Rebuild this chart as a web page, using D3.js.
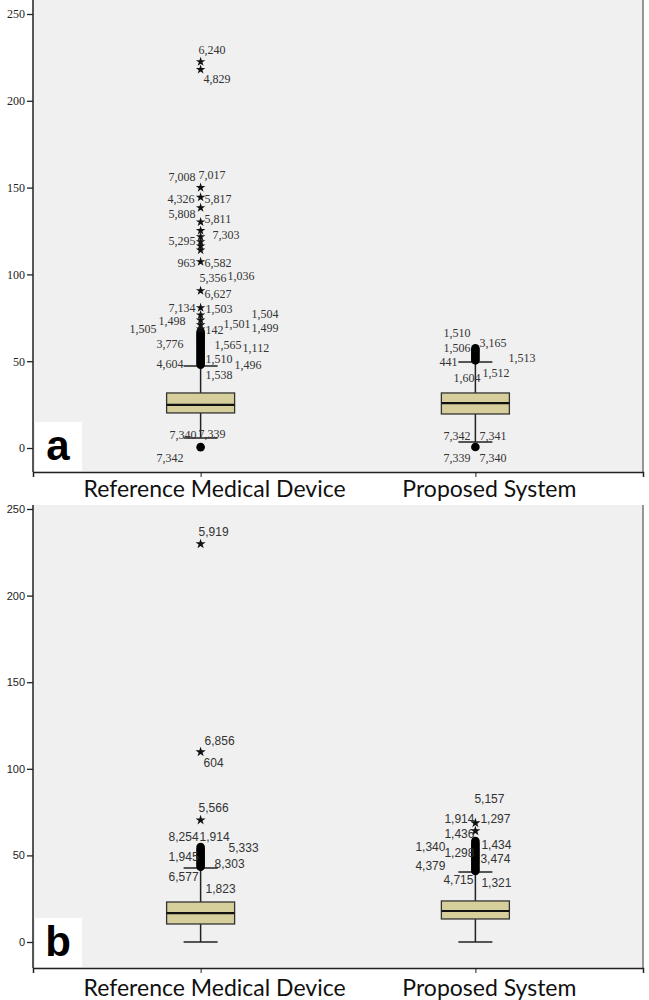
<!DOCTYPE html>
<html>
<head>
<meta charset="utf-8">
<script src="https://cdn.jsdelivr.net/npm/d3@7"></script>
<style>
  body { margin: 0; background: #fff; }
</style>
</head>
<body>
<div id="chart"></div>
<script>
var categories = ["Reference Medical Device", "Proposed System"];
var yTicks = [0, 50, 100, 150, 200, 250];

// box stats: [lower whisker, q1, median, q3, upper whisker]
var boxA = [[5.8, 20.2, 24.8, 31.7, 47.2], [3.5, 19.6, 25.9, 31.7, 49.5]];
var boxB = [[0, 10.4, 16.7, 23.1, 42.7], [0, 13.3, 17.9, 23.7, 40.4]];

// outliers (circles) and extremes (stars)
var circlesA = [
  [0.5, 48, 49, 50, 51, 52, 53, 54, 55, 56, 57, 58, 59, 60, 61, 62, 63, 64, 65, 66, 67],
  [0.6, 50.5, 51.5, 52.5, 53.5, 54.5, 55.5, 56.5, 57.5]
];
var starsA = [
  [68.5, 70.9, 73.7, 76.6, 80.8, 90.6, 107.3, 114, 116.4, 118.8, 121.7, 125.2, 130.2, 138.4, 144.4, 150, 218, 222.5],
  []
];
var circlesB = [
  [43.5, 44.5, 45.5, 46.5, 47.5, 48.5, 49.5, 50.5, 51.5, 52.5, 53.5, 54.8],
  [41, 42, 43, 44, 45, 46, 47, 48, 49, 50, 51, 52, 53, 54, 55, 56, 57, 58.3]
];
var starsB = [
  [70.4, 109.7, 229.8],
  [64.1, 68.7]
];

// case labels: [text, value, dx]
var labelsA = [
  [["6,240", 227.0, -2], ["4,829", 210.3, 3], ["7,008", 154.0, -32], ["7,017", 155.0, -2],
   ["4,326", 141.3, -33], ["5,817", 141.3, 4], ["5,808", 132.5, -32], ["5,811", 129.6, 4],
   ["7,303", 120.4, 12], ["5,295", 116.9, -32], ["963", 104.3, -23], ["6,582", 104.3, 4],
   ["5,356", 95.6, -1], ["1,036", 96.8, 27], ["6,627", 86.4, 4], ["7,134", 78.3, -32],
   ["1,503", 77.8, 5], ["1,504", 74.9, 51], ["1,498", 70.9, -42], ["1,505", 66.2, -71],
   ["142", 65.7, 5], ["1,501", 69.1, 23], ["1,499", 66.8, 51], ["3,776", 57.6, -44],
   ["1,565", 57.0, 14], ["1,112", 55.3, 42], ["4,604", 46.1, -44], ["1,510", 49.0, 5],
   ["1,496", 45.5, 34], ["1,538", 39.7, 5], ["7,340", 5.2, -31], ["7,339", 5.8, -2],
   ["7,342", -8.1, -44]],
  [["1,510", 63.9, -32], ["1,506", 55.3, -32], ["3,165", 58.2, 4], ["441", 47.2, -36],
   ["1,513", 49.5, 33], ["1,604", 38.0, -22], ["1,512", 40.9, 7], ["7,342", 4.6, -32],
   ["7,341", 4.6, 4], ["7,339", -8.1, -32], ["7,340", -8.1, 4]]
];
var labelsB = [
  [["5,919", 234.4, -2], ["6,856", 113.7, 4], ["604", 101.0, 3], ["5,566", 75.1, -2],
   ["8,254", 58.3, -32], ["1,914", 58.3, -1], ["5,333", 52.0, 28], ["1,945", 46.8, -32],
   ["8,303", 42.7, 14], ["6,577", 35.2, -32], ["1,823", 28.3, 5]],
  [["5,157", 80.3, -1], ["1,914", 68.7, -31], ["1,297", 68.7, 5], ["1,436", 60.0, -31],
   ["1,340", 52.5, -60], ["1,298", 49.1, -31], ["1,434", 53.7, 6], ["3,474", 45.6, 5],
   ["4,379", 41.6, -60], ["4,715", 33.5, -32], ["1,321", 31.8, 6]]
];

var width = 649, height = 1000;
var plotLeft = 33, plotRight = 643;

var svg = d3.select("#chart").append("svg")
  .attr("width", width)
  .attr("height", height);

var xScale = d3.scalePoint()
  .domain(categories)
  .range([plotLeft, plotRight])
  .padding(0.61);

function drawPanel(opt) {
  var g = svg.append("g").attr("class", "panel-" + opt.letter);

  var yScale = d3.scaleLinear().domain([0, 250]).range([opt.y0, opt.y250]);

  // plot background
  g.append("rect")
    .attr("x", plotLeft)
    .attr("y", opt.top)
    .attr("width", plotRight - plotLeft)
    .attr("height", opt.bottom - opt.top)
    .attr("fill", "#f0f0f0");
  g.append("line")
    .attr("x1", plotRight).attr("x2", plotRight)
    .attr("y1", opt.top).attr("y2", opt.bottom)
    .attr("stroke", "#555").attr("stroke-width", 1.2);

  // letter badge
  g.append("rect")
    .attr("x", plotLeft + 2).attr("y", opt.bottom - 50)
    .attr("width", 47).attr("height", 49)
    .attr("fill", "#fff");
  g.append("text")
    .text(opt.letter)
    .attr("x", plotLeft + 25).attr("y", opt.bottom - 12)
    .attr("text-anchor", "middle")
    .attr("font-family", "Liberation Sans, Arial, sans-serif")
    .attr("font-weight", "bold")
    .attr("font-size", 42)
    .attr("fill", "#000");

  // y axis
  var yAxis = d3.axisLeft(yScale).tickValues(yTicks).tickSize(6).tickPadding(2).tickFormat(d3.format("d"));
  var ya = g.append("g")
    .attr("transform", "translate(" + plotLeft + ",0)")
    .call(yAxis);
  ya.select(".domain").remove();
  ya.append("line")
    .attr("x1", 0).attr("x2", 0)
    .attr("y1", opt.top).attr("y2", opt.bottom)
    .attr("stroke", "#222").attr("stroke-width", 1.5);
  ya.selectAll(".tick line").attr("stroke", "#222").attr("stroke-width", 1.3);
  ya.selectAll(".tick text")
    .attr("font-family", opt.tickFont)
    .attr("font-size", opt.tickSize)
    .attr("fill", "#222");

  // x axis
  var xAxis = d3.axisBottom(xScale).tickSize(5).tickFormat("");
  var xa = g.append("g")
    .attr("transform", "translate(0," + opt.bottom + ")")
    .call(xAxis);
  xa.select(".domain").attr("stroke", "#222").attr("stroke-width", 1.5);
  xa.selectAll(".tick line").attr("stroke", "#222");

  g.selectAll(".cat-label")
    .data(categories)
    .enter().append("text")
    .attr("class", "cat-label")
    .text(function(d) { return d; })
    .attr("x", function(d) { return xScale(d) + 14; })
    .attr("y", opt.catY)
    .attr("text-anchor", "middle")
    .attr("font-family", "Lato, Open Sans, sans-serif")
    .attr("font-size", 23)
    .attr("fill", "#111");

  var boxW = 68, capW = 34;

  categories.forEach(function(cat, i) {
    var cx = xScale(cat);
    var s = opt.box[i];

    // whiskers
    g.append("line")
      .attr("x1", cx).attr("x2", cx)
      .attr("y1", yScale(s[0])).attr("y2", yScale(s[1]))
      .attr("stroke", "#222").attr("stroke-width", 1.5);
    g.append("line")
      .attr("x1", cx).attr("x2", cx)
      .attr("y1", yScale(s[3])).attr("y2", yScale(s[4]))
      .attr("stroke", "#222").attr("stroke-width", 1.5);
    [s[0], s[4]].forEach(function(v) {
      g.append("line")
        .attr("x1", cx - capW / 2).attr("x2", cx + capW / 2)
        .attr("y1", yScale(v)).attr("y2", yScale(v))
        .attr("stroke", "#222").attr("stroke-width", 1.5);
    });

    // box
    g.append("rect")
      .attr("x", cx - boxW / 2)
      .attr("y", yScale(s[3]))
      .attr("width", boxW)
      .attr("height", yScale(s[1]) - yScale(s[3]))
      .attr("fill", "#d6cf9c")
      .attr("stroke", "#333").attr("stroke-width", 1.3);
    g.append("line")
      .attr("x1", cx - boxW / 2).attr("x2", cx + boxW / 2)
      .attr("y1", yScale(s[2])).attr("y2", yScale(s[2]))
      .attr("stroke", "#111").attr("stroke-width", 2.2);

    // outliers
    g.selectAll(".circ-" + i)
      .data(opt.circles[i])
      .enter().append("circle")
      .attr("class", "circ-" + i)
      .attr("cx", cx)
      .attr("cy", function(d) { return yScale(d); })
      .attr("r", 4.3)
      .attr("fill", "#000");

    g.selectAll(".star-" + i)
      .data(opt.stars[i])
      .enter().append("path")
      .attr("class", "star-" + i)
      .attr("d", d3.symbol().type(d3.symbolStar).size(opt.starSize))
      .attr("transform", function(d) { return "translate(" + cx + "," + yScale(d) + ")"; })
      .attr("fill", "#111");

    g.selectAll(".lab-" + i)
      .data(opt.labels[i])
      .enter().append("text")
      .attr("class", "lab-" + i)
      .text(function(d) { return d[0]; })
      .attr("x", function(d) { return cx + d[2]; })
      .attr("y", function(d) { return yScale(d[1]); })
      .attr("font-family", opt.labelFont)
      .attr("font-size", opt.labelSize)
      .attr("fill", "#333");
  });
}

drawPanel({
  letter: "a", top: -5, bottom: 472, y0: 448, y250: 14, catY: 497,
  tickFont: "Liberation Serif, Times New Roman, serif", tickSize: 12,
  labelFont: "Liberation Serif, Times New Roman, serif", labelSize: 12,
  starSize: 28,
  box: boxA, circles: circlesA, stars: starsA, labels: labelsA
});

drawPanel({
  letter: "b", top: 505, bottom: 968, y0: 942, y250: 509, catY: 996,
  tickFont: "Liberation Sans, Arial, sans-serif", tickSize: 11,
  labelFont: "Liberation Sans, Arial, sans-serif", labelSize: 12,
  starSize: 32,
  box: boxB, circles: circlesB, stars: starsB, labels: labelsB
});
</script>
</body>
</html>
